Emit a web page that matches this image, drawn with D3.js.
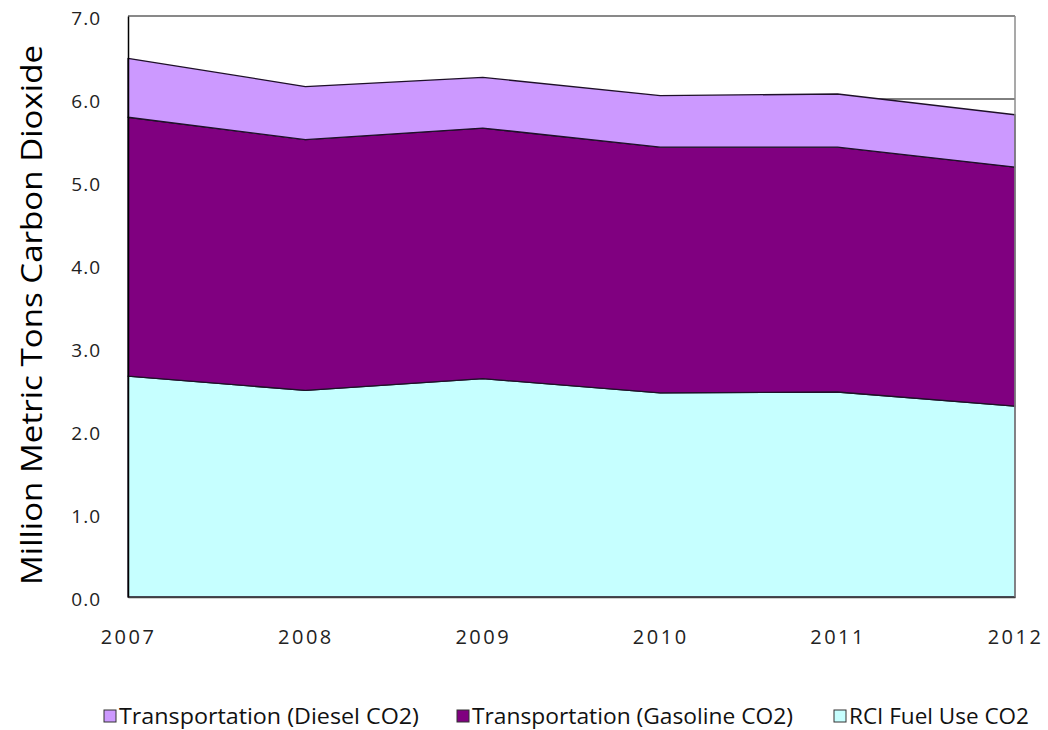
<!DOCTYPE html>
<html>
<head>
<meta charset="utf-8">
<script src="https://cdn.jsdelivr.net/npm/d3@7"></script>
<style>
  html, body { margin: 0; padding: 0; background: #fff; }
  svg { display: block; font-family: "Open Sans", sans-serif; }
</style>
</head>
<body>
<svg id="chart" width="1048" height="730"></svg>
<script>
// Annual CO2 emissions by source (million metric tons)
const years = [2007, 2008, 2009, 2010, 2011, 2012];
const rciFuel = [2.66, 2.49, 2.63, 2.46, 2.47, 2.30];
const gasoline = [3.12, 3.02, 3.02, 2.96, 2.95, 2.88];
const diesel = [0.71, 0.64, 0.61, 0.62, 0.64, 0.63];
const yTicks = [0, 1, 2, 3, 4, 5, 6, 7];
const seriesNames = ["RCI Fuel Use CO2", "Transportation (Gasoline CO2)", "Transportation (Diesel CO2)"];
const legendOrder = ["Transportation (Diesel CO2)", "Transportation (Gasoline CO2)", "RCI Fuel Use CO2"];
const colors = {
  "RCI Fuel Use CO2": "#c6ffff",
  "Transportation (Gasoline CO2)": "#800080",
  "Transportation (Diesel CO2)": "#cc99ff"
};

const svg = d3.select("#chart");
const plot = { left: 128, right: 1015, top: 16, bottom: 597 };

const x = d3.scaleLinear().domain([years[0], years[years.length - 1]]).range([plot.left, plot.right]);
const y = d3.scaleLinear().domain([0, 7]).range([plot.bottom, plot.top]);

const rows = years.map((yr, i) => ({
  year: yr,
  "RCI Fuel Use CO2": rciFuel[i],
  "Transportation (Gasoline CO2)": gasoline[i],
  "Transportation (Diesel CO2)": diesel[i]
}));
const stacked = d3.stack().keys(seriesNames)(rows);

// gridlines sit behind the areas
svg.append("g").selectAll("line").data(yTicks).join("line")
  .attr("x1", plot.left).attr("x2", plot.right)
  .attr("y1", d => y(d)).attr("y2", d => y(d))
  .attr("stroke", "#000").attr("stroke-width", 1);

const area = d3.area()
  .x(d => x(d.data.year))
  .y0(d => y(d[0]))
  .y1(d => y(d[1]));

svg.append("g").selectAll("path").data(stacked).join("path")
  .attr("d", area)
  .attr("fill", d => colors[d.key])
  .attr("stroke", "#1e1028")
  .attr("stroke-width", 1.3)
  .attr("stroke-linejoin", "round");

// plot frame
svg.append("line").attr("x1", plot.left).attr("x2", plot.right)
  .attr("y1", plot.top).attr("y2", plot.top).attr("stroke", "#8c8c8c").attr("stroke-width", 1.5);
svg.append("line").attr("x1", plot.right).attr("x2", plot.right)
  .attr("y1", plot.top).attr("y2", plot.bottom).attr("stroke", "#8c8c8c").attr("stroke-width", 1.5);

// axes
const yAxis = d3.axisLeft(y).tickValues(yTicks).tickFormat(d3.format(".1f")).tickSize(0).tickPadding(27);
const gy = svg.append("g").attr("transform", `translate(${plot.left},0)`).call(yAxis);
gy.select(".domain").attr("stroke", "#000").attr("stroke-width", 1.5);
gy.selectAll("text").attr("font-size", 19).attr("letter-spacing", 1).attr("dy", "0.45em")
  .attr("fill", "#222").attr("font-family", "Open Sans, sans-serif");

const xAxis = d3.axisBottom(x).tickValues(years).tickFormat(d3.format("d")).tickSize(0).tickPadding(33);
const gx = svg.append("g").attr("transform", `translate(0,${plot.bottom})`).call(xAxis);
gx.select(".domain").attr("stroke", "#404040").attr("stroke-width", 1.5);
gx.selectAll("text").attr("font-size", 20).attr("letter-spacing", 2.5)
  .attr("fill", "#222").attr("font-family", "Open Sans, sans-serif");

// y-axis title
svg.append("text")
  .attr("transform", `translate(42,${(45 + 585) / 2}) rotate(-90)`)
  .attr("text-anchor", "middle")
  .attr("font-size", 30)
  .attr("textLength", 540)
  .attr("lengthAdjust", "spacingAndGlyphs")
  .attr("fill", "#000")
  .text("Million Metric Tons Carbon Dioxide");

// legend
const legendX = [104, 457, 834];
const legendW = [300, 321, 180];
const lg = svg.append("g");
legendOrder.forEach((name, i) => {
  const g = lg.append("g").attr("transform", `translate(${legendX[i]},710)`);
  g.append("rect").attr("x", 0).attr("y", 0).attr("width", 12).attr("height", 12)
    .attr("fill", colors[name]).attr("stroke", "#333").attr("stroke-width", 1);
  g.append("text").attr("x", 15).attr("y", 14).attr("font-size", 21)
    .attr("textLength", legendW[i]).attr("lengthAdjust", "spacingAndGlyphs")
    .attr("fill", "#111").text(name);
});
</script>
</body>
</html>
